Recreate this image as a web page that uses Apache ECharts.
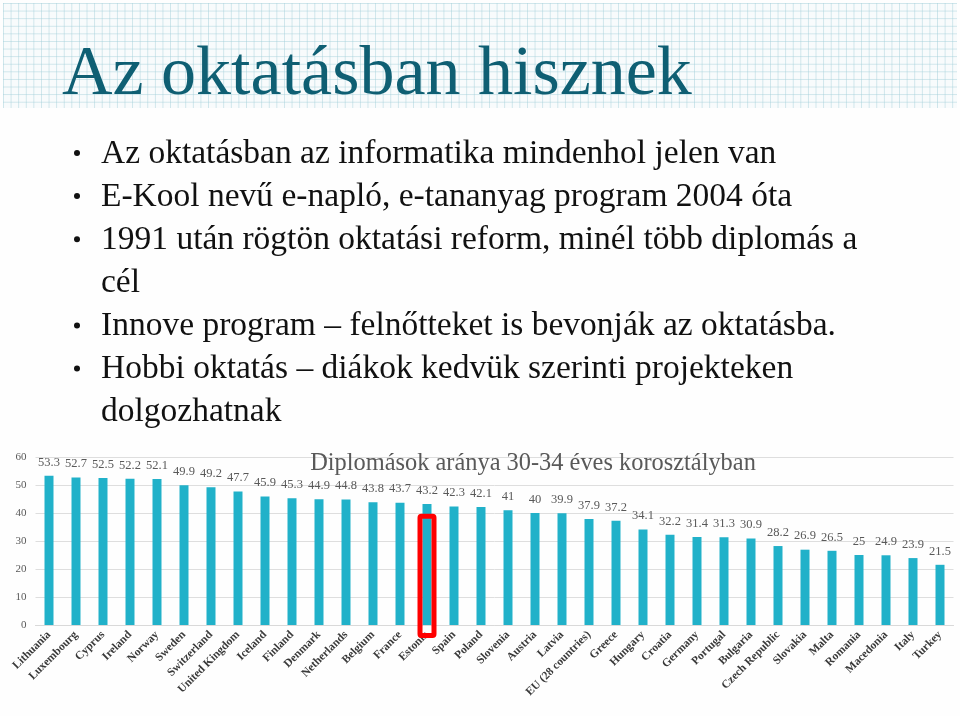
<!DOCTYPE html>
<html>
<head>
<meta charset="utf-8">
<script src="https://cdn.jsdelivr.net/npm/echarts@6/dist/echarts.min.js"></script>
<style>
  html, body { margin: 0; padding: 0; background: #fff; }
  #wrap { position: relative; width: 960px; height: 716px; overflow: hidden; background: #fefefe; }
  #paper {
    position: absolute; left: 3px; top: 3px; width: 954px; height: 105px;
    background-color: #f8fbfc;
    background-image:
      linear-gradient(to right, rgba(165,208,218,0.5) 1px, transparent 1px),
      linear-gradient(to bottom, rgba(165,208,218,0.5) 1px, transparent 1px);
    background-size: 7.6px 7.6px;
  }
  #chart { position: absolute; left: 0; top: 0; width: 960px; height: 716px; }
</style>
</head>
<body>
<div id="wrap">
  <div id="paper"></div>
  <div id="chart"></div>
</div>
<script>
const slideTitle = "Az oktatásban hisznek";
const bulletLines = [
  { text: "Az oktatásban az informatika mindenhol jelen van", bullet: true },
  { text: "E-Kool nevű e-napló, e-tananyag program 2004 óta", bullet: true },
  { text: "1991 után rögtön oktatási reform, minél több diplomás a", bullet: true },
  { text: "cél", bullet: false },
  { text: "Innove program – felnőtteket is bevonják az oktatásba.", bullet: true },
  { text: "Hobbi oktatás – diákok kedvük szerinti projekteken", bullet: true },
  { text: "dolgozhatnak", bullet: false }
];
const chartTitle = "Diplomások aránya 30-34 éves korosztályban";
const countries = ["Lithuania","Luxembourg","Cyprus","Ireland","Norway","Sweden","Switzerland","United Kingdom","Iceland","Finland","Denmark","Netherlands","Belgium","France","Estonia","Spain","Poland","Slovenia","Austria","Latvia","EU (28 countries)","Greece","Hungary","Croatia","Germany","Portugal","Bulgaria","Czech Republic","Slovakia","Malta","Romania","Macedonia","Italy","Turkey"];
const values = [53.3,52.7,52.5,52.2,52.1,49.9,49.2,47.7,45.9,45.3,44.9,44.8,43.8,43.7,43.2,42.3,42.1,41,40,39.9,37.9,37.2,34.1,32.2,31.4,31.3,30.9,28.2,26.9,26.5,25,24.9,23.9,21.5];
const yTicks = [0,10,20,30,40,50,60];
const highlighted = "Estonia";
const highlightTop = 38.8;

const serif = '"Liberation Serif", "Times New Roman", serif';

const chart = echarts.init(document.getElementById('chart'), null, { renderer: 'canvas' });

const textGraphics = [];
textGraphics.push({
  type: 'text', left: 62, top: 41,
  style: { text: slideTitle, fontFamily: serif, fontSize: 70, fill: '#0f5f73' }
});
bulletLines.forEach((b, i) => {
  const y = 137 + i * 43.1;
  if (b.bullet) {
    textGraphics.push({ type: 'circle', shape: { cx: 77, cy: y + 16, r: 3 }, style: { fill: '#111' } });
  }
  textGraphics.push({
    type: 'text', left: 101, top: y,
    style: { text: b.text, fontFamily: serif, fontSize: 33.5, fontWeight: 'normal', fill: '#111' }
  });
});

chart.setOption({
  animation: false,
  textStyle: { fontFamily: serif },
  title: {
    text: chartTitle, left: 528, top: 447, textAlign: 'center',
    textStyle: { fontFamily: serif, fontSize: 24.4, fontWeight: 'normal', color: '#595959' }
  },
  grid: { left: 35.5, right: 6.5, top: 457, bottom: 91, containLabel: false },
  xAxis: {
    type: 'category', data: countries,
    axisLine: { lineStyle: { color: '#d9d9d9', width: 1 } },
    axisTick: { show: false },
    axisLabel: {
      interval: 0, rotate: 45, fontFamily: serif, fontSize: 11.5, fontWeight: 'bold',
      color: '#3a3a3a', margin: 8
    }
  },
  yAxis: {
    type: 'value', min: yTicks[0], max: yTicks[yTicks.length - 1], interval: 10,
    axisLine: { show: false }, axisTick: { show: false },
    axisLabel: { fontFamily: serif, fontSize: 11, color: '#595959', margin: 9 },
    splitLine: { lineStyle: { color: '#dedede', width: 1 } }
  },
  series: [{
    type: 'bar', data: values, barWidth: 9,
    itemStyle: { color: '#21b1c9' },
    label: {
      show: true, position: 'top', distance: 7,
      fontFamily: serif, fontSize: 12.5, color: '#595959'
    }
  }],
  graphic: textGraphics
});

function addHighlight() {
  const idx = countries.indexOf(highlighted);
  const top = chart.convertToPixel({ gridIndex: 0 }, [idx, highlightTop]);
  const zero = chart.convertToPixel({ gridIndex: 0 }, [idx, 0]);
  const w = 14, lw = 5;
  textGraphics.push({
    type: 'rect', z: 100,
    shape: { x: top[0] - w / 2, y: top[1], width: w, height: (zero[1] + 10.5) - top[1], r: 1.5 },
    style: { fill: 'none', stroke: '#ff0000', lineWidth: lw }
  });
  chart.setOption({ graphic: textGraphics });
}
addHighlight();
</script>
</body>
</html>
